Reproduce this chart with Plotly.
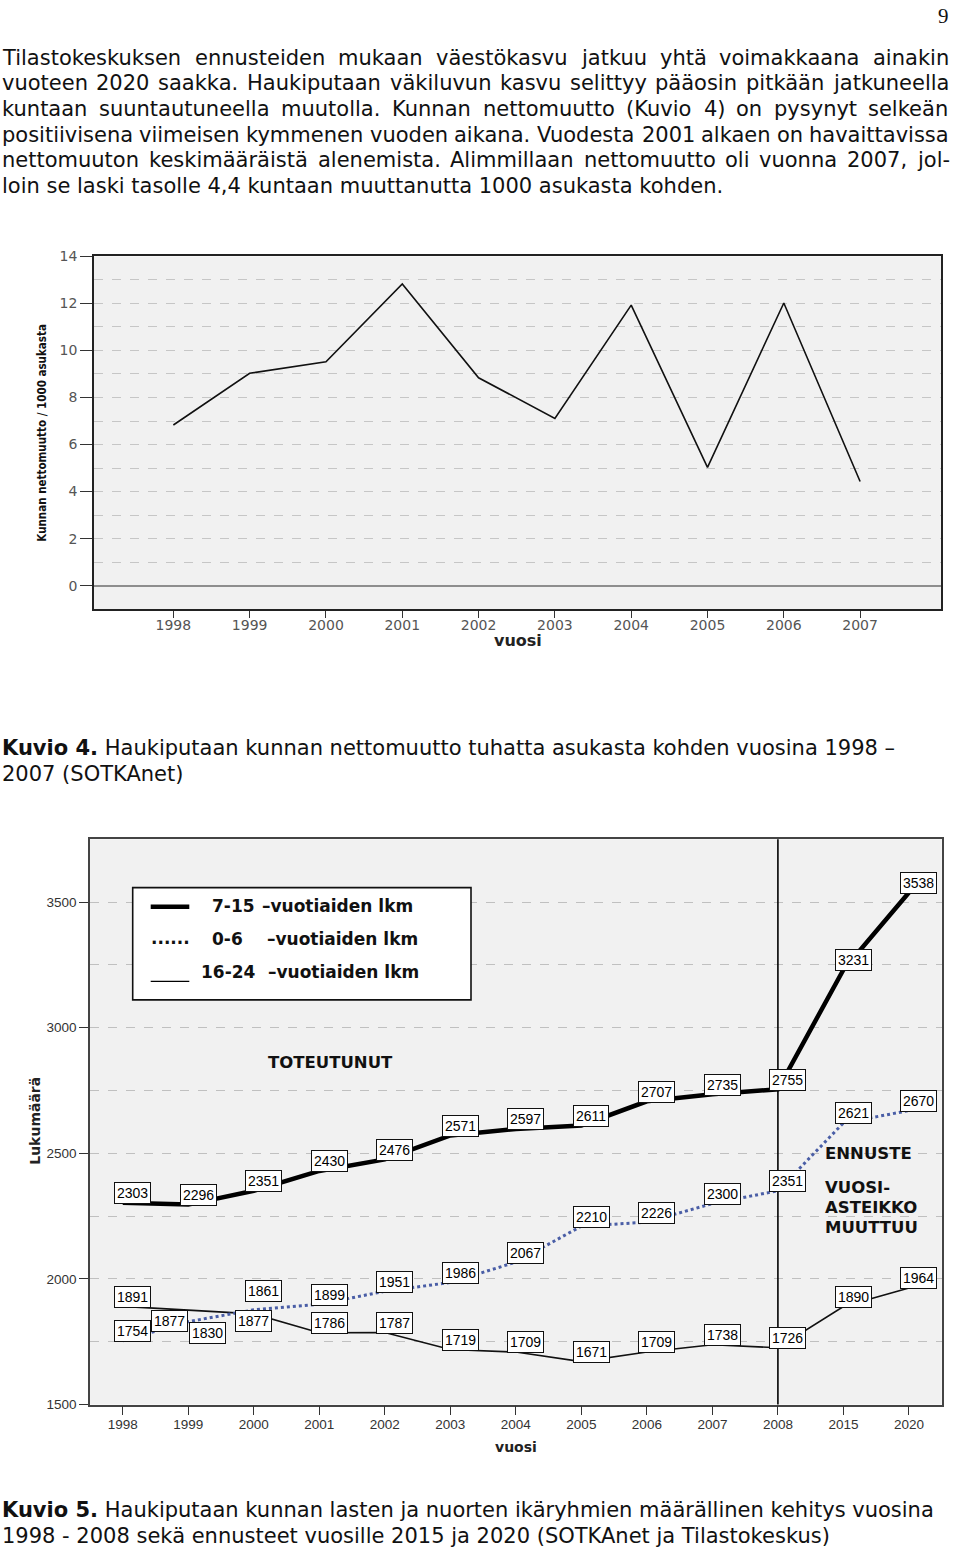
import plotly.graph_objects as go

W, H = 960, 1548
# the photographed page comes out slightly squeezed vertically; this maps a
# wanted on-picture y position to the page y position that lands there
SQ, SQ_OFF = 0.9904, 6.4

# ---------------- data ----------------
years1 = [1998, 1999, 2000, 2001, 2002, 2003, 2004, 2005, 2006, 2007]
nettomuutto = [6.83, 9.03, 9.52, 12.83, 8.84, 7.11, 11.93, 5.03, 12.02, 4.43]

years2 = ['1998', '1999', '2000', '2001', '2002', '2003', '2004', '2005',
          '2006', '2007', '2008', '2015', '2020']
age_7_15 = [2303, 2296, 2351, 2430, 2476, 2571, 2597, 2611, 2707, 2735, 2755, 3231, 3538]
age_0_6 = [1754, 1830, 1877, 1899, 1951, 1986, 2067, 2210, 2226, 2300, 2351, 2621, 2670]
age_16_24 = [1891, 1877, 1861, 1786, 1787, 1719, 1709, 1671, 1709, 1738, 1726, 1890, 1964]

body_lines = [
    "Tilastokeskuksen ennusteiden mukaan väestökasvu jatkuu yhtä voimakkaana ainakin",
    "vuoteen 2020 saakka. Haukiputaan väkiluvun kasvu selittyy pääosin pitkään jatkuneella",
    "kuntaan suuntautuneella muutolla. Kunnan nettomuutto (Kuvio 4) on pysynyt selkeän",
    "positiivisena viimeisen kymmenen vuoden aikana. Vuodesta 2001 alkaen on havaittavissa",
    "nettomuuton keskimääräistä alenemista. Alimmillaan nettomuutto oli vuonna 2007, jol-",
    "loin se laski tasolle 4,4 kuntaan muuttanutta 1000 asukasta kohden.",
]

# ---------------- helpers ----------------
def px(x):
    return x / W

def py(y):
    return 1 - ((y - SQ_OFF) / SQ) / H

# DejaVu Sans advance widths (em) for justification
CW = {' ': .318, 'a': .613, 'b': .635, 'c': .550, 'd': .635, 'e': .615, 'f': .352,
      'g': .635, 'h': .634, 'i': .278, 'j': .278, 'k': .579, 'l': .278, 'm': .974,
      'n': .634, 'o': .612, 'p': .635, 'q': .635, 'r': .411, 's': .521, 't': .392,
      'u': .634, 'v': .592, 'w': .818, 'x': .592, 'y': .592, 'z': .525, 'ä': .613,
      'ö': .612, '.': .318, ',': .318, '(': .390, ')': .390, '-': .361,
      'A': .684, 'H': .752, 'K': .656, 'T': .611, 'V': .684, 'S': .635, 'O': .787}
for d in '0123456789':
    CW[d] = .636

def text_w(s, size):
    return sum(CW.get(c, .6) for c in s) * size

fig = go.Figure()

# ---------------- chart 1 ----------------
fig.add_trace(go.Scatter(x=years1, y=nettomuutto, mode='lines',
                         line=dict(color='#111111', width=1.6),
                         xaxis='x', yaxis='y', hoverinfo='skip'))

# ---------------- chart 2 ----------------
fig.add_trace(go.Scatter(x=years2, y=age_16_24, mode='lines',
                         line=dict(color='#111111', width=1.6),
                         xaxis='x2', yaxis='y2', hoverinfo='skip'))
fig.add_trace(go.Scatter(x=years2, y=age_0_6, mode='lines',
                         line=dict(color='#4a5ea6', width=3, dash='dot'),
                         xaxis='x2', yaxis='y2', hoverinfo='skip'))
fig.add_trace(go.Scatter(x=years2, y=age_7_15, mode='lines',
                         line=dict(color='#000000', width=4.5),
                         xaxis='x2', yaxis='y2', hoverinfo='skip'))

tick1 = dict(family='DejaVu Sans', size=14, color='#555555')
tick2 = dict(family='Liberation Sans, Arial', size=13.5, color='#333333')

fig.update_layout(
    width=W, height=H, margin=dict(l=0, r=0, t=0, b=0),
    paper_bgcolor='white', plot_bgcolor='#f1f1f1', showlegend=False,
    xaxis=dict(domain=[px(94), px(941)], range=[1996.96, 2008.06],
               tickmode='array', tickvals=years1, ticks='outside', ticklen=7,
               tickcolor='#333', tickwidth=1, tickfont=tick1, ticklabelstandoff=-5,
               showgrid=False, zeroline=False, showline=True, mirror=True,
               linecolor='#222', linewidth=1.6, anchor='y'),
    yaxis=dict(domain=[py(608), py(255)], range=[-1, 14],
               tickmode='linear', tick0=0, dtick=2, ticks='outside', ticklen=12,
               tickcolor='#333', tickwidth=1, tickfont=tick1,
               showgrid=True, gridcolor='#c6c6c6', griddash='dash', gridwidth=1,
               minor=dict(dtick=1, tick0=0, showgrid=True, gridcolor='#c6c6c6',
                          griddash='dash', gridwidth=1, ticks=''),
               zeroline=True, zerolinecolor='#8e8e8e', zerolinewidth=1.6,
               showline=True, mirror=True, linecolor='#222', linewidth=1.6,
               anchor='x'),
    xaxis2=dict(domain=[px(90), px(941.7)], type='category',
                categoryorder='array', categoryarray=years2, range=[-0.5, 12.5],
                ticks='outside', ticklen=9, tickcolor='#333', tickwidth=1,
                tickfont=tick2, ticklabelstandoff=-3, showgrid=False,
                zeroline=False, showline=True,
                mirror=True, linecolor='#444', linewidth=1.6, anchor='y2'),
    yaxis2=dict(domain=[py(1404), py(838.3)], range=[1500, 3750],
                tickmode='linear', tick0=1500, dtick=500, ticks='outside',
                ticklen=9, tickcolor='#333', tickwidth=1, tickfont=tick2,
                showgrid=True, gridcolor='#c0c0c0', griddash='dash', gridwidth=1,
                minor=dict(dtick=250, tick0=1500, showgrid=True, gridcolor='#c0c0c0',
                           griddash='dash', gridwidth=1, ticks=''),
                zeroline=False, showline=True, mirror=True, linecolor='#444',
                linewidth=1.6, anchor='x2'),
)

ann = []

def paper_text(text, x, y, size, family='DejaVu Sans', color='#111',
               xanchor='left', yanchor='middle', angle=0):
    ann.append(dict(text=text, x=px(x), y=py(y), xref='paper', yref='paper',
                    showarrow=False, xanchor=xanchor, yanchor=yanchor,
                    textangle=angle, borderpad=0, borderwidth=0,
                    font=dict(family=family, size=size, color=color)))

# page number
paper_text('9', 943, 14, 21, family='Liberation Serif, serif', xanchor='center')

# body text (justified lines)
BODY_SIZE = 21
X0, X1 = 2, 949
base_y = 56.3
line_gap = 25.6
for i, line in enumerate(body_lines):
    y = base_y + i * line_gap
    if i == len(body_lines) - 1:
        paper_text(line, X0, y, BODY_SIZE)
        continue
    words = line.split(' ')
    widths = [text_w(w_, BODY_SIZE) for w_ in words]
    gap = (X1 - X0 - sum(widths)) / (len(words) - 1)
    xx = X0
    for w_, ww in zip(words, widths):
        paper_text(w_, xx, y, BODY_SIZE)
        xx += ww + gap

# captions
paper_text('<b>Kuvio 4.</b> Haukiputaan kunnan nettomuutto tuhatta asukasta kohden vuosina 1998 –',
           X0, 747, BODY_SIZE)
paper_text('2007 (SOTKAnet)', X0, 773, BODY_SIZE)
paper_text('<b>Kuvio 5.</b> Haukiputaan kunnan lasten ja nuorten ikäryhmien määrällinen kehitys vuosina',
           X0, 1510, BODY_SIZE)
paper_text('1998 - 2008 sekä ennusteet vuosille 2015 ja 2020 (SOTKAnet ja Tilastokeskus)',
           X0, 1536, BODY_SIZE)

# chart 1 axis titles
paper_text('<b>Kunnan nettomuutto / 1000 asukasta</b>', 41.7, 431.7, 11.5,
           family='Liberation Sans Narrow, DejaVu Sans Condensed, Arial Narrow, sans-serif',
           xanchor='center', angle=-90)
paper_text('<b>vuosi</b>', 518, 639, 16, xanchor='center', color='#222')

# chart 2 axis titles
paper_text('<b>Lukumäärä</b>', 35, 1120, 14, xanchor='center', angle=-90, color='#222')
paper_text('<b>vuosi</b>', 516, 1446, 14, xanchor='center', color='#222')

# chart 2 inner texts
INNER = 16.5
paper_text('<b>TOTEUTUNUT</b>', 268, 1062, INNER)
paper_text('<b>ENNUSTE</b>', 825, 1153, INNER)
paper_text('<b>VUOSI-</b>', 825, 1187, INNER)
paper_text('<b>ASTEIKKO</b>', 825, 1207, INNER)
paper_text('<b>MUUTTUU</b>', 825, 1227, INNER)

# legend box contents
LEG = 17
paper_text('<b>7-15</b>', 211.7, 905.5, LEG)
paper_text('<b>–vuotiaiden lkm</b>', 261.7, 905.5, LEG)
paper_text('<b>......</b>', 150.7, 937, LEG)
paper_text('<b>0-6</b>', 211.7, 938.5, LEG)
paper_text('<b>–vuotiaiden lkm</b>', 266.7, 938.5, LEG)
paper_text('<b>16-24</b>', 201, 971.5, LEG)
paper_text('<b>–vuotiaiden lkm</b>', 267.7, 971.5, LEG)

# value labels (boxed); category axis positions are category indices
label_font = dict(family='Liberation Sans, Arial', size=14, color='#000')
default_off = (10, 9.5)
offsets_16_24 = {'1999': (-19, -11.5), '2000': (10, 23)}
offsets_0_6 = {'1999': (19, -11.5), '2000': (0, -11)}
for series, offs in ((age_7_15, {}), (age_16_24, offsets_16_24), (age_0_6, offsets_0_6)):
    for idx, (yr, v) in enumerate(zip(years2, series)):
        dx, dy = offs.get(yr, default_off)
        ann.append(dict(text=str(v), x=idx, y=v, xref='x2', yref='y2',
                        showarrow=False, xanchor='center', yanchor='middle',
                        xshift=dx, yshift=dy / SQ, bgcolor='white', bordercolor='#111',
                        borderwidth=1, borderpad=2, font=label_font))

fig.update_layout(annotations=ann)

shapes = []
# legend box
shapes.append(dict(type='rect', xref='paper', yref='paper', x0=px(132.7), x1=px(471),
                   y0=py(999), y1=py(886.7), fillcolor='white',
                   line=dict(color='#111', width=1.6), layer='above'))
shapes.append(dict(type='line', xref='paper', yref='paper', x0=px(150.7), x1=px(189.3),
                   y0=py(905.7), y1=py(905.7), line=dict(color='#000', width=4.5)))
shapes.append(dict(type='line', xref='paper', yref='paper', x0=px(150.7), x1=px(189.3),
                   y0=py(980.5), y1=py(980.5), line=dict(color='#000', width=1.3)))
# vertical divider at 2008
shapes.append(dict(type='line', xref='x2', yref='y2 domain', x0=years2.index('2008'),
                   x1=years2.index('2008'), y0=0, y1=1,
                   line=dict(color='#000', width=1.6), layer='above'))
fig.update_layout(shapes=shapes)

fig.write_html("out.html", config={'displayModeBar': False},
               post_script="document.body.style.margin='0';")
